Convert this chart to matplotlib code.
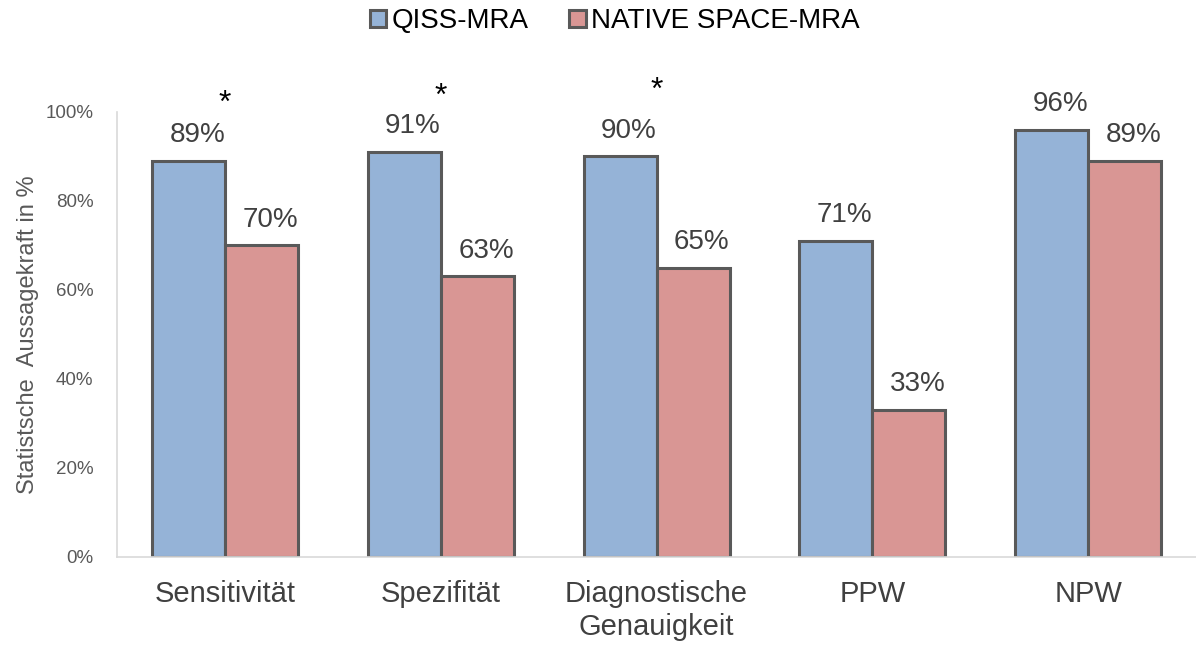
import matplotlib
matplotlib.use('Agg')
import matplotlib.pyplot as plt
import numpy as np

plt.rcParams['font.family'] = ['Liberation Sans', 'DejaVu Sans']

categories = ['Sensitivität', 'Spezifität', 'Diagnostische\nGenauigkeit', 'PPW', 'NPW']
qiss = [89, 91, 90, 71, 96]
native = [70, 63, 65, 33, 89]
star_groups = [0, 1, 2]
star_heights = [100.0, 101.6, 102.8]

blue = '#95B3D7'
red = '#D99694'
edge = '#595959'

fig = plt.figure(figsize=(11.96, 6.46), dpi=100)
ax = fig.add_axes([0.098, 0.138, 0.902, 0.689])

x = np.arange(len(categories))
w = 0.338
b1 = ax.bar(x - w / 2, qiss, w, color=blue, edgecolor=edge, linewidth=2.2, label='QISS-MRA')
b2 = ax.bar(x + w / 2, native, w, color=red, edgecolor=edge, linewidth=2.2, label='NATIVE SPACE-MRA')

for bars, vals in [(b1, qiss), (b2, native)]:
    for rect, v in zip(bars, vals):
        ax.text(rect.get_x() + rect.get_width() / 2 + 0.04, v + 4.2, f'{v}%', ha='center', va='baseline',
                fontsize=20, color='#404040')

for g, h in zip(star_groups, star_heights):
    ax.text(x[g], h, '*', ha='center', va='baseline', fontsize=23, color='black', clip_on=False)

ax.set_xlim(-0.5, 4.5)
ax.set_ylim(0, 100)
ax.set_yticks(range(0, 101, 20))
ax.set_yticklabels([f'{t}%' for t in range(0, 101, 20)])
ax.set_xticks(x)
ax.set_xticklabels(categories)
ax.tick_params(axis='y', length=0, labelsize=13.5, labelcolor='#595959', pad=17)
ax.tick_params(axis='x', length=0, labelsize=21, labelcolor='#404040', pad=17)
for s in ['top', 'right']:
    ax.spines[s].set_visible(False)
for s in ['left', 'bottom']:
    ax.spines[s].set_color('#D9D9D9')
    ax.spines[s].set_linewidth(1.2)

ax.set_ylabel('Statistsche  Aussagekraft in %', fontsize=17, color='#595959', labelpad=5)

fig.legend(handles=[b1, b2], loc='center', bbox_to_anchor=(0.514, 0.967), ncol=2, frameon=False,
           fontsize=20, handlelength=0.6, handleheight=0.6, handletextpad=0.2, columnspacing=1.45)

fig.savefig('out.png', dpi=100)
